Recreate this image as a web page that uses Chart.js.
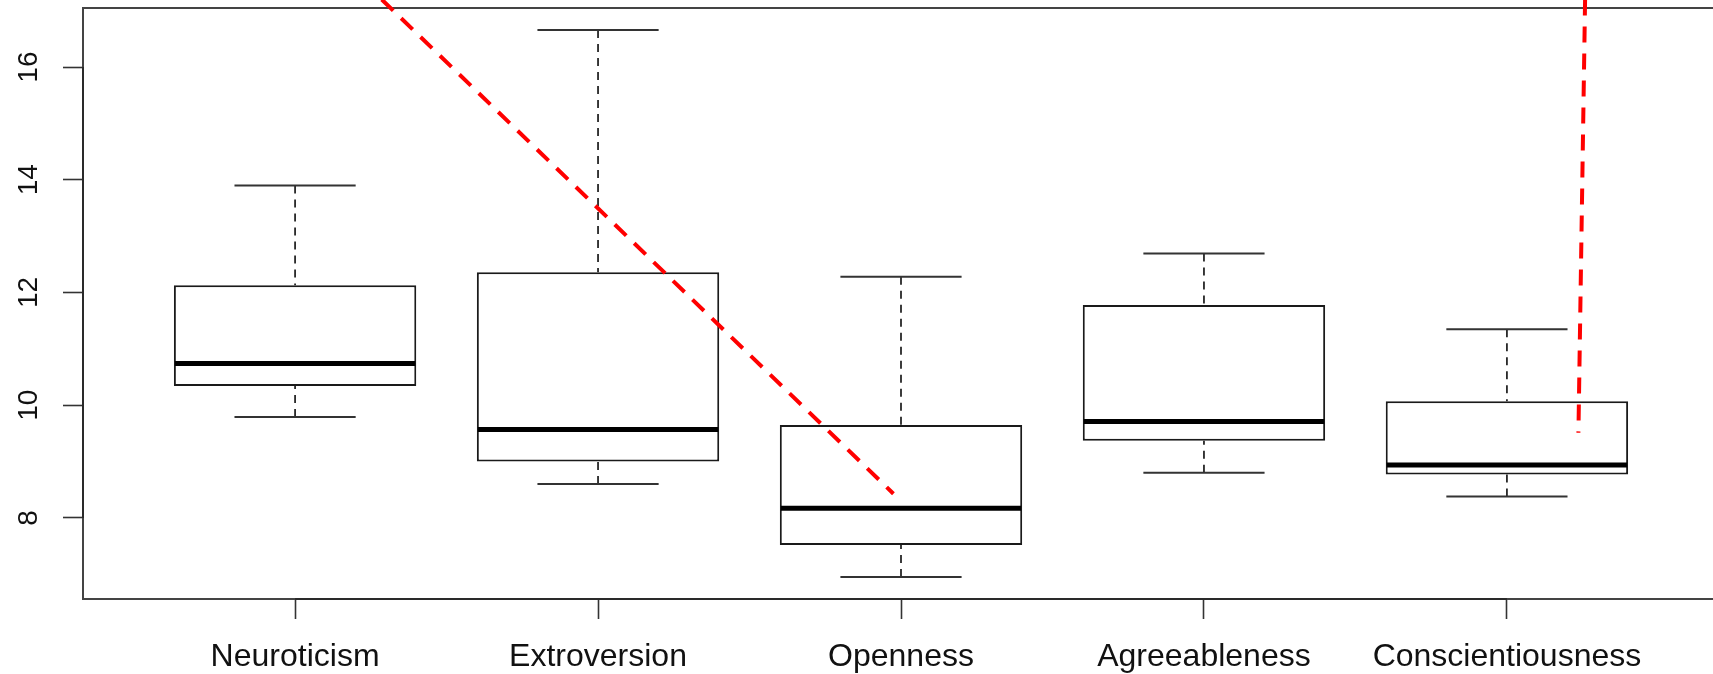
<!DOCTYPE html>
<html>
<head>
<meta charset="utf-8">
<script src="https://cdn.jsdelivr.net/npm/chart.js@4/dist/chart.umd.min.js"></script>
<style>
html,body{margin:0;padding:0;background:#fff;overflow:hidden;width:1713px;height:674px}
canvas{display:block}
</style>
</head>
<body>
<canvas id="c" width="1722" height="674"></canvas>
<script>
// ---- data ----
const categories   = ['Neuroticism', 'Extroversion', 'Openness', 'Agreeableness', 'Conscientiousness'];
const lowerWhisker = [9.79, 8.60, 6.95, 8.80, 8.38];
const q1           = [10.34, 9.00, 7.52, 9.37, 8.77];
const median       = [10.74, 9.57, 8.17, 9.71, 8.94];
const q3           = [12.13, 12.36, 9.65, 11.78, 10.07];
const upperWhisker = [13.90, 16.66, 12.28, 12.69, 11.35];
const yTicks       = [8, 10, 12, 14, 16];
// red dashed annotation lines (x in category units, y in value units)
const redLineA = [{x: 1.286, y: 17.2}, {x: 2.975, y: 8.43}];
const redLineB = [{x: 5.258, y: 17.2}, {x: 5.236, y: 9.51}];

// R-style axis extension (4%)
const dataMin = Math.min(...lowerWhisker), dataMax = Math.max(...upperWhisker);
const ext = 0.04 * (dataMax - dataMin);
const yMin = dataMin - ext, yMax = dataMax + ext;
const xMin = 0.3, xMax = categories.length + 0.7;

const FONT = '"Liberation Sans", Arial, Helvetica, sans-serif';

const boxData = categories.map((c, i) => ({x: i + 1, y: [q1[i], q3[i]]}));

const boxPlugin = {
  id: 'rbox',
  afterDatasetDraw(chart, args) {
    if (args.index !== 0) return;
    const {ctx, scales: {x, y}} = chart;
    ctx.save();
    categories.forEach((c, i) => {
      const cx = x.getPixelForValue(i + 1);
      const capL = x.getPixelForValue(i + 1 - 0.2), capR = x.getPixelForValue(i + 1 + 0.2);
      const boxL = x.getPixelForValue(i + 1 - 0.4), boxR = x.getPixelForValue(i + 1 + 0.4);
      // dashed whiskers
      ctx.strokeStyle = '#1a1a1a';
      ctx.lineWidth = 1.7;
      ctx.setLineDash([8, 6]);
      ctx.beginPath();
      ctx.moveTo(cx, y.getPixelForValue(upperWhisker[i]));
      ctx.lineTo(cx, y.getPixelForValue(q3[i]));
      ctx.moveTo(cx, y.getPixelForValue(lowerWhisker[i]));
      ctx.lineTo(cx, y.getPixelForValue(q1[i]));
      ctx.stroke();
      ctx.setLineDash([]);
      // staples
      ctx.lineWidth = 2;
      ctx.strokeStyle = '#333';
      ctx.beginPath();
      ctx.moveTo(capL, y.getPixelForValue(upperWhisker[i]));
      ctx.lineTo(capR, y.getPixelForValue(upperWhisker[i]));
      ctx.moveTo(capL, y.getPixelForValue(lowerWhisker[i]));
      ctx.lineTo(capR, y.getPixelForValue(lowerWhisker[i]));
      ctx.stroke();
      // median
      ctx.lineWidth = 5;
      ctx.strokeStyle = '#000';
      ctx.beginPath();
      ctx.moveTo(boxL + 1, y.getPixelForValue(median[i]));
      ctx.lineTo(boxR - 1, y.getPixelForValue(median[i]));
      ctx.stroke();
    });
    ctx.restore();
  }
};

const framePlugin = {
  id: 'rframe',
  beforeDatasetsDraw(chart) {
    const {ctx, chartArea: a, scales: {x, y}} = chart;
    ctx.save();
    ctx.strokeStyle = '#444';
    ctx.lineWidth = 2;
    ctx.strokeRect(a.left, a.top, a.right - a.left, a.bottom - a.top);
    // R axis lines (from first to last tick)
    ctx.strokeStyle = '#222';
    ctx.lineWidth = 1.5;
    ctx.beginPath();
    ctx.moveTo(x.getPixelForValue(1), a.bottom);
    ctx.lineTo(x.getPixelForValue(categories.length), a.bottom);
    ctx.moveTo(a.left, y.getPixelForValue(yTicks[0]));
    ctx.lineTo(a.left, y.getPixelForValue(yTicks[yTicks.length - 1]));
    ctx.stroke();
    ctx.restore();
  },
  afterDraw(chart) {
    const {ctx, scales: {y}} = chart;
    ctx.save();
    ctx.fillStyle = '#111';
    ctx.font = '28px ' + FONT;
    ctx.textAlign = 'center';
    ctx.textBaseline = 'alphabetic';
    yTicks.forEach(v => {
      ctx.save();
      ctx.translate(37, y.getPixelForValue(v));
      ctx.rotate(-Math.PI / 2);
      ctx.fillText(String(v), 0, 0);
      ctx.restore();
    });
    ctx.restore();
  }
};

const tickGrid = {drawOnChartArea: false, drawTicks: true, tickLength: 20, tickColor: '#333', tickWidth: 1.6, offset: false};

new Chart(document.getElementById('c'), {
  data: {
    datasets: [
      {
        type: 'bar', order: 2, data: boxData,
        backgroundColor: '#ffffff', borderColor: '#1a1a1a', borderWidth: 2, borderSkipped: false,
        categoryPercentage: 0.8, barPercentage: 1.0
      },
      {
        type: 'line', order: 1, data: redLineA,
        borderColor: '#ff0000', borderWidth: 4, borderDash: [16, 11],
        pointRadius: 0, fill: false, tension: 0, clip: false
      },
      {
        type: 'line', order: 1, data: redLineB,
        borderColor: '#ff0000', borderWidth: 4, borderDash: [16, 11],
        pointRadius: 0, fill: false, tension: 0, clip: false
      }
    ]
  },
  options: {
    responsive: false,
    animation: false,
    devicePixelRatio: 1,
    layout: {padding: {top: 8, right: 3, left: 0, bottom: 0}},
    plugins: {legend: {display: false}, tooltip: {enabled: false}},
    scales: {
      x: {
        type: 'linear', min: xMin, max: xMax, offset: false,
        afterBuildTicks: s => { s.ticks = categories.map((c, i) => ({value: i + 1})); },
        afterFit: s => { s.height = 75; },
        ticks: {
          autoSkip: false, maxRotation: 0, minRotation: 0, padding: 19, color: '#111',
          font: {family: FONT, size: 32},
          callback: v => categories[Math.round(v) - 1]
        },
        grid: tickGrid,
        border: {display: false}
      },
      y: {
        type: 'linear', min: yMin, max: yMax,
        afterBuildTicks: s => { s.ticks = yTicks.map(v => ({value: v})); },
        afterFit: s => { s.width = 83; },
        ticks: {display: false},
        grid: tickGrid,
        border: {display: false}
      }
    }
  },
  plugins: [framePlugin, boxPlugin]
});
</script>
</body>
</html>
